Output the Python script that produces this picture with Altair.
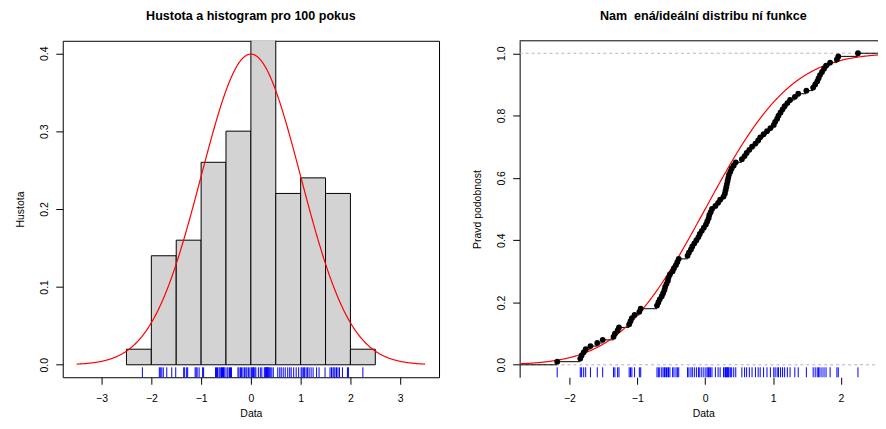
import altair as alt
import pandas as pd

# ---- data ----
values = [
    -2.18,
    -1.84, -1.82, -1.79, -1.76, -1.69, -1.59, -1.51,
    -1.35, -1.33, -1.29, -1.27, -1.12, -1.10, -1.08, -1.04,
    -0.97, -0.95, -0.71, -0.69, -0.67, -0.64, -0.62, -0.60, -0.59, -0.57, -0.55, -0.54, -0.52,
    -0.48, -0.46, -0.43, -0.41, -0.39, -0.26, -0.24, -0.21, -0.19, -0.16, -0.13, -0.10, -0.08, -0.05, -0.02,
    0.01, 0.03, 0.05, 0.06, 0.08, 0.10, 0.15, 0.19, 0.22, 0.27, 0.29, 0.30, 0.31, 0.32, 0.33, 0.34, 0.35, 0.37, 0.39, 0.42, 0.45,
    0.54, 0.58, 0.61, 0.65, 0.69, 0.74, 0.78, 0.81, 0.86, 0.91, 0.96,
    1.01, 1.03, 1.06, 1.08, 1.11, 1.14, 1.17, 1.21, 1.25, 1.32, 1.37, 1.49,
    1.59, 1.62, 1.65, 1.67, 1.69, 1.72, 1.75, 1.78, 1.84, 1.94, 1.96,
    2.25,
]
bin_extent = [-2.5, 2.5]
bin_step = 0.5
curve_range = [-3.5, 3.5]
left_x_ticks = [-3, -2, -1, 0, 1, 2, 3]
left_y_ticks = [0.0, 0.1, 0.2, 0.3, 0.4]
right_x_ticks = [-2, -1, 0, 1, 2]
right_y_ticks = [0.0, 0.2, 0.4, 0.6, 0.8, 1.0]
ref_levels = [0.0, 1.0]
left_title = "Hustota a histogram pro 100 pokus"
right_title = "Nam\u00a0 ená/ideální distribu ní funkce"
left_ylabel = "Hustota"
right_ylabel = "Pravd podobnost"
xlabel = "Data"

left_xdom = [-3.78, 3.78]
left_ydom = [-0.016, 0.416]
right_xdom = [-2.733, 2.677]
right_ydom = [-0.04, 1.04]

FONT = "Liberation Sans"
LW, LH = 378, 338
RW, RH = 369, 338

n = len(values)
df = pd.DataFrame({"x": values})
srt = sorted(values)
seg_x = [right_xdom[0]] + srt
seg_x2 = srt + [right_xdom[1]]
seg_y = [i / n for i in range(n + 1)]
steps = pd.DataFrame({"x": seg_x, "x2": seg_x2, "y": seg_y})
pts = pd.DataFrame({"x": srt, "y": [(i + 1) / n for i in range(n)]})
refs = pd.DataFrame({"y": ref_levels})
frame = pd.DataFrame({"k": [0]})


def xaxis(vals):
    return alt.Axis(values=vals, title=xlabel, grid=False, tickSize=7, tickColor="black",
                    domain=False, labelFontSize=10.5, labelColor="black", labelPadding=9,
                    titleFontSize=10.5, titleFontWeight="normal", titleColor="black",
                    titlePadding=5, labelFont=FONT, titleFont=FONT, format="~g")


def yaxis(vals, title, domain):
    return alt.Axis(values=vals, title=title, grid=False, tickSize=7, tickColor="black",
                    domain=domain, domainColor="black", labelAngle=-90, labelAlign="center",
                    labelBaseline="bottom", labelFontSize=10.5, labelColor="black",
                    labelPadding=6, format=".1f", titleFontSize=10.5,
                    titleFontWeight="normal", titleColor="black", titlePadding=14,
                    labelFont=FONT, titleFont=FONT)


lx = alt.Scale(domain=left_xdom, nice=False, zero=False)
ly = alt.Scale(domain=left_ydom, nice=False, zero=False)
rx = alt.Scale(domain=right_xdom, nice=False, zero=False)
ry = alt.Scale(domain=right_ydom, nice=False, zero=False)

bars = alt.Chart(df).transform_bin(
    ["b0", "b1"], field="x", bin=alt.Bin(extent=bin_extent, step=bin_step)
).transform_aggregate(
    cnt="count()", groupby=["b0", "b1"]
).transform_calculate(
    dens=f"datum.cnt / ({n} * {bin_step})"
).mark_bar(fill="#D3D3D3", stroke="black", strokeWidth=1, clip=True).encode(
    x=alt.X("b0:Q", scale=lx, axis=xaxis(left_x_ticks)),
    x2="b1:Q",
    y=alt.Y("dens:Q", scale=ly, axis=yaxis(left_y_ticks, left_ylabel, False)),
    y2=alt.datum(0),
)

dcurve = alt.Chart(alt.sequence(curve_range[0], curve_range[1] + 0.001, 0.01, as_="t")).transform_calculate(
    d="densityNormal(datum.t, 0, 1)"
).mark_line(color="red", strokeWidth=1.2, clip=True).encode(
    x=alt.X("t:Q", scale=lx), y=alt.Y("d:Q", scale=ly)
)

rug_l = alt.Chart(df).mark_rule(color="blue", strokeWidth=1).encode(
    x=alt.X("x:Q", scale=lx), y=alt.value(LH), y2=alt.value(LH - 10)
)

left = alt.layer(bars, dcurve, rug_l).properties(
    width=LW, height=LH, title=left_title,
    view=alt.ViewBackground(stroke="black", strokeWidth=1),
)

refl = alt.Chart(refs).mark_rule(color="#B3B3B3", strokeDash=[3, 3], strokeWidth=1).encode(
    y=alt.Y("y:Q", scale=ry, axis=yaxis(right_y_ticks, right_ylabel, True))
)
stepl = alt.Chart(steps).mark_rule(color="black", strokeWidth=1, clip=True).encode(
    x=alt.X("x:Q", scale=rx, axis=xaxis(right_x_ticks)), x2="x2:Q", y=alt.Y("y:Q", scale=ry)
)
ccurve = alt.Chart(alt.sequence(right_xdom[0], right_xdom[1] + 0.001, 0.01, as_="t")).transform_calculate(
    p="cumulativeNormal(datum.t, 0, 1)"
).mark_line(color="red", strokeWidth=1.2, clip=True).encode(
    x=alt.X("t:Q", scale=rx), y=alt.Y("p:Q", scale=ry)
)
dots = alt.Chart(pts).mark_circle(color="black", opacity=1, size=34).encode(
    x=alt.X("x:Q", scale=rx), y=alt.Y("y:Q", scale=ry)
)
rug_r = alt.Chart(df).mark_rule(color="blue", strokeWidth=1).encode(
    x=alt.X("x:Q", scale=rx), y=alt.value(RH), y2=alt.value(RH - 10)
)
topline = alt.Chart(frame).mark_rule(color="black", strokeWidth=1).encode(y=alt.value(0))

right = alt.layer(refl, stepl, ccurve, dots, rug_r, topline).properties(
    width=RW, height=RH, title=right_title,
    view=alt.ViewBackground(stroke="transparent"),
)

chart = alt.hconcat(left, right, spacing=32).properties(
    padding={"left": 7, "top": 0, "right": -10, "bottom": 0}
).configure_title(
    font=FONT, fontSize=12.6, fontWeight="bold", color="black", offset=18
).configure_axis(
    domainColor="black"
)

chart.save("out.html", embed_options={"renderer": "svg", "actions": False})
